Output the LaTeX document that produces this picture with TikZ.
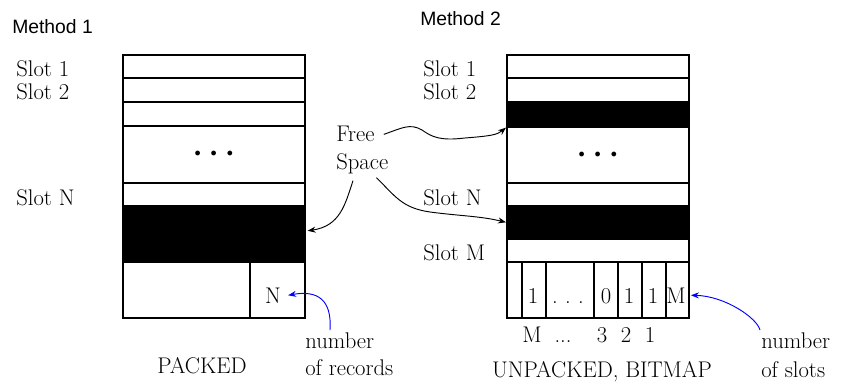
\documentclass[tikz,border=0pt]{standalone}
\usepackage{fontspec}
\newfontfamily\headfont{Liberation Sans}
\usetikzlibrary{arrows.meta}
\newcommand{\px}{0.75pt}
\newcommand{\slotdots}{{\fontsize{9.5}{11}\selectfont$\bullet$\hspace{7.5pt}$\bullet$\hspace{7.5pt}$\bullet$}}

\begin{document}
\begin{tikzpicture}[x=\px, y=-\px,
    rect/.style={draw, rectangle, anchor=north west, minimum width=182*\px, line width=1.2pt, inner sep=0pt},
    band/.style={rect, fill=black},
    cell/.style={draw, rectangle, anchor=north west, minimum height=56*\px, line width=1.2pt, inner sep=0pt},
    txt/.style={inner sep=0pt, anchor=base west, font=\fontsize{17}{19}\selectfont},
    mid/.style={txt, anchor=base},
    head/.style={inner sep=0pt, anchor=base west, font=\headfont\fontsize{14.5}{17}\selectfont},
    freearrow/.style={-{Stealth[length=6pt,width=4.5pt]}, line width=0.7pt},
    countarrow/.style={freearrow, blue}]
    \useasboundingbox (0,0) rectangle (843,385);

    % Packed page
    \node[head] (m1) at (12,34) {Method 1};
    \node[rect, minimum height=23*\px] (l-1) at (122,54) {};
    \node[rect, minimum height=24*\px] (l-2) at (122,77) {};
    \node[rect, minimum height=24*\px] (l-3) at (122,101) {};
    \node[rect, minimum height=57*\px] (l-4) at (122,125) {\slotdots};
    \node[rect, minimum height=23*\px] (l-5) at (122,182) {};
    \node[band, minimum height=56*\px] (l-free) at (122,205) {};
    \node[cell, minimum width=127*\px] (l-6) at (122,261) {};
    \node[cell, minimum width=55*\px] (l-cnt) at (249,261) {};
    \node[mid] (n) at (273,303) {N};

    \node[txt] (l-lab-1) at (16,77) {Slot 1};
    \node[txt] (l-lab-2) at (16,100) {Slot 2};
    \node[txt] (l-lab-n) at (16,205) {Slot N};
    \node[mid] (packed) at (202,373) {PACKED};
    \node[txt] (rec-1) at (305,348) {number};
    \node[txt] (rec-2) at (305,375) {of records};

    % Unpacked page with bitmap
    \node[head] (m2) at (420,26) {Method 2};
    \node[rect, minimum height=23*\px] (r-1) at (506,54) {};
    \node[rect, minimum height=24*\px] (r-2) at (506,77) {};
    \node[band, minimum height=25*\px] (r-3) at (506,101) {};
    \node[rect, minimum height=56*\px] (r-4) at (506,126) {\slotdots};
    \node[rect, minimum height=23*\px] (r-5) at (506,182) {};
    \node[band, minimum height=33*\px] (r-free) at (506,205) {};
    \node[rect, minimum height=23*\px] (r-6) at (506,238) {};
    \node[cell, minimum width=15*\px] (c-0) at (506,261) {};
    \node[cell, minimum width=24*\px] (c-1) at (521,261) {};
    \node[cell, minimum width=48*\px] (c-2) at (545,261) {};
    \node[cell, minimum width=24*\px] (c-3) at (593,261) {};
    \node[cell, minimum width=24*\px] (c-4) at (617,261) {};
    \node[cell, minimum width=24*\px] (c-5) at (641,261) {};
    \node[cell, minimum width=23*\px] (c-6) at (665,261) {};
    \node[mid] (bit-m) at (533,303) {1};
    \node[mid] (bit-dots) at (568,303) {.\hspace{5.5pt}.\hspace{5.5pt}.};
    \node[mid] (bit-3) at (606,303) {0};
    \node[mid] (bit-2) at (629,303) {1};
    \node[mid] (bit-1) at (653,303) {1};
    \node[mid] (cnt) at (676,303) {M};

    \node[mid] (idx-m) at (532,342) {M};
    \node[mid] (idx-dots) at (563,342) {...};
    \node[mid] (idx-3) at (602,342) {3};
    \node[mid] (idx-2) at (626,342) {2};
    \node[mid] (idx-1) at (650,342) {1};

    \node[txt] (r-lab-1) at (423,77) {Slot 1};
    \node[txt] (r-lab-2) at (423,100) {Slot 2};
    \node[txt] (r-lab-n) at (423,205) {Slot N};
    \node[txt] (r-lab-m) at (423,260) {Slot M};
    \node[mid] (unpacked) at (602,377) {UNPACKED, BITMAP};
    \node[txt] (slots-1) at (761,348) {number};
    \node[txt] (slots-2) at (761,377) {of slots};

    % Free space pointers
    \node[txt] (free) at (336,142) {Free};
    \node[txt] (space) at (336,170) {Space};
    \draw[freearrow] ([xshift=9*\px]free.east) .. controls (402,128) and (410,123) .. (422,130)
        .. controls (432,137) and (440,141) .. (465,138)
        .. controls (490,136) and (497,135) .. (r-3.south west);
    \draw[freearrow] ([xshift=17*\px,yshift=-6*\px]space.south west) .. controls (345,205) and (340,226) .. ([xshift=2*\px,yshift=3*\px]l-free.east);
    \draw[freearrow] ([xshift=-12*\px,yshift=-3*\px]space.south east) .. controls (395,196) and (402,208) .. (430,212)
        .. controls (460,216) and (480,216) .. (r-free.west);

    % Counters
    \draw[countarrow] ([xshift=25*\px,yshift=2*\px]rec-1.north west) .. controls (332,300) and (318,290) .. ([xshift=7*\px]n.east);
    \draw[countarrow] ([xshift=-1*\px,yshift=2*\px]slots-1.north west) .. controls (757,318) and (725,296) .. ([xshift=5*\px]cnt.east);
\end{tikzpicture}
\end{document}
